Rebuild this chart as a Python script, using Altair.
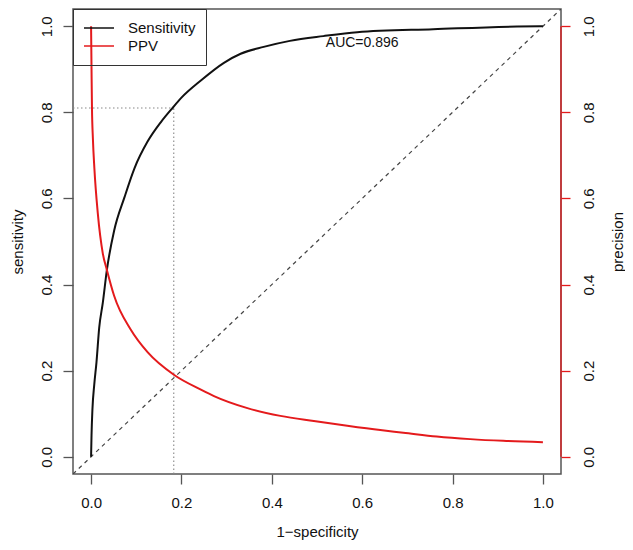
import altair as alt
import pandas as pd

# ---- data ----
roc_fpr = [0, 0.001, 0.003, 0.007, 0.012, 0.018, 0.026, 0.035, 0.051, 0.074, 0.096, 0.125,
           0.155, 0.18, 0.199, 0.243, 0.294, 0.331, 0.382, 0.44, 0.514, 0.589, 0.757, 0.993, 1.0]
roc_sens = [0, 0.05, 0.11, 0.167, 0.22, 0.30, 0.358, 0.434, 0.525, 0.603, 0.67, 0.732,
            0.778, 0.81, 0.833, 0.874, 0.915, 0.936, 0.952, 0.966, 0.977, 0.986, 0.993, 1.0, 1.0]

ppv_fpr = [0, 0.001, 0.002, 0.004, 0.0073, 0.015, 0.026, 0.035, 0.051, 0.088, 0.125,
           0.184, 0.243, 0.272, 0.346, 0.419, 0.493, 0.567, 0.64, 0.691, 0.765, 0.839, 0.912, 1.0]
ppv_val = [1.0, 0.9, 0.81, 0.74, 0.67, 0.564, 0.472, 0.434, 0.374, 0.295, 0.243,
           0.19, 0.156, 0.141, 0.113, 0.095, 0.083, 0.072, 0.062, 0.056, 0.047, 0.041, 0.037, 0.034]

tick_values = [0.0, 0.2, 0.4, 0.6, 0.8, 1.0]
series_names = ["Sensitivity", "PPV"]
series_colors = ["#111111", "#e41a1c"]
cut_fpr = 0.183
cut_sens = 0.81
auc_text = "AUC=0.896"
auc_x = 0.6
auc_y = 0.96
DOM = [-0.04, 1.04]

W, H = 488, 465
FONT = "Liberation Sans"
RED = "#e41a1c"
BOX = "#555555"

roc_df = pd.DataFrame({"fpr": roc_fpr, "value": roc_sens, "series": "Sensitivity",
                       "idx": range(len(roc_fpr))})
ppv_df = pd.DataFrame({"fpr": ppv_fpr, "value": ppv_val, "series": "PPV",
                       "idx": range(len(ppv_fpr))})
diag_df = pd.DataFrame({"fpr": DOM, "value": DOM})
cut_df = pd.DataFrame({"x": [DOM[0], cut_fpr], "x2": [cut_fpr, cut_fpr],
                       "y": [cut_sens, DOM[0]], "y2": [cut_sens, cut_sens]})
raxis_df = pd.DataFrame({"x": [DOM[1]], "y": [tick_values[0]], "y2": [tick_values[-1]]})
auc_df = pd.DataFrame({"x": [auc_x], "y": [auc_y], "t": [auc_text]})

xscale = alt.Scale(domain=DOM, nice=False, zero=False)


def yscale():
    return alt.Scale(domain=DOM, nice=False, zero=False)


x_axis = alt.Axis(values=tick_values, format=".1f", title="1\u2212specificity", domain=False,
                  grid=False, tickSize=10, tickColor=BOX, tickWidth=1.3, labelFontSize=15,
                  labelPadding=11, labelColor="#111", titleFontSize=15, titleFontWeight="normal",
                  titleColor="#111", titleX=W / 2, titleY=57, titleAlign="center",
                  titleBaseline="middle")

left_axis = alt.Axis(values=tick_values, format=".1f", title="sensitivity", orient="left",
                     domain=False, grid=False, tickSize=10, tickColor=BOX, tickWidth=1.3,
                     labelFontSize=15, labelAngle=270, labelAlign="center",
                     labelBaseline="bottom", labelPadding=9, labelColor="#111",
                     titleFontSize=15, titleFontWeight="normal", titleColor="#111",
                     titleAngle=270, titleX=-56, titleY=H / 2, titleAlign="center",
                     titleBaseline="middle")

right_axis = alt.Axis(values=tick_values, format=".1f", title="precision", orient="right",
                      domain=False, grid=False, tickSize=9, tickColor=RED, tickWidth=1.3,
                      labelFontSize=15, labelAngle=270, labelAlign="center",
                      labelBaseline="top", labelPadding=11, labelColor="#111",
                      titleFontSize=15, titleFontWeight="normal", titleColor="#111",
                      titleAngle=270, titleX=56, titleY=H / 2, titleAlign="center",
                      titleBaseline="middle")

color = alt.Color(
    "series:N",
    scale=alt.Scale(domain=series_names, range=series_colors),
    legend=alt.Legend(title=None, orient="top-left", offset=0, padding=10,
                      strokeColor="#333333", symbolType="stroke", symbolSize=900,
                      symbolStrokeWidth=1.3, labelFontSize=15, labelFont=FONT,
                      labelOffset=13, clipHeight=18, rowPadding=0, labelColor="#111"),
)

diag = alt.Chart(diag_df).mark_line(strokeDash=[4, 4], color="#444444", strokeWidth=1.2,
                                    clip=True).encode(
    x=alt.X("fpr:Q", scale=xscale, axis=x_axis),
    y=alt.Y("value:Q", scale=yscale(), axis=None),
)

cuts = alt.Chart(cut_df).mark_rule(strokeDash=[1.5, 2.5], color="#888888",
                                   strokeWidth=1.1).encode(
    x="x:Q", x2="x2:Q",
    y=alt.Y("y:Q", scale=yscale(), axis=None), y2="y2:Q",
)

roc = alt.Chart(roc_df).mark_line(strokeWidth=2, interpolate="monotone").encode(
    x="fpr:Q",
    y=alt.Y("value:Q", scale=yscale(), axis=left_axis),
    color=color,
    order="idx:Q",
)

ppv = alt.Chart(ppv_df).mark_line(strokeWidth=2, interpolate="monotone").encode(
    x="fpr:Q",
    y=alt.Y("value:Q", scale=yscale(), axis=right_axis),
    color=color,
    order="idx:Q",
)

raxis = alt.Chart(raxis_df).mark_rule(color=RED, strokeWidth=1.3).encode(
    x="x:Q",
    y=alt.Y("y:Q", scale=yscale(), axis=None), y2="y2:Q",
)

auc = alt.Chart(auc_df).mark_text(fontSize=14, font=FONT, align="center",
                                  baseline="middle", color="#111").encode(
    x="x:Q",
    y=alt.Y("y:Q", scale=yscale(), axis=None),
    text="t:N",
)

chart = alt.layer(diag, cuts, roc, ppv, raxis, auc).resolve_scale(
    y="independent"
).properties(
    width=W, height=H,
    autosize=alt.AutoSizeParams(type="none"),
    padding={"left": 65, "top": 1, "right": 64, "bottom": 68},
).configure(font=FONT).configure_view(stroke=BOX, strokeWidth=1.5)

chart.save("out.html", embed_options={"renderer": "svg", "actions": False})
